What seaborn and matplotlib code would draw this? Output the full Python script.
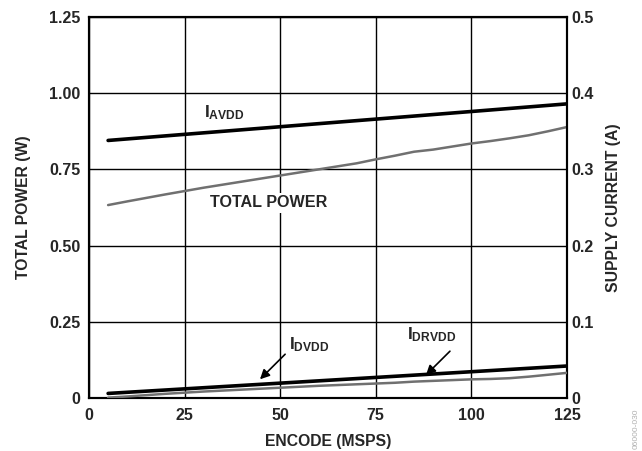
import matplotlib
matplotlib.use("Agg")
import matplotlib.pyplot as plt
import seaborn as sns
import pandas as pd

# data
encode = [5, 10, 20, 25, 30, 40, 50, 60, 70, 75, 80, 85, 90, 95, 100, 105, 110, 115, 120, 125]
total_power = [0.633, 0.645, 0.668, 0.679, 0.690, 0.710, 0.730, 0.750, 0.770, 0.783,
               0.795, 0.808, 0.815, 0.825, 0.835, 0.843, 0.852, 0.862, 0.875, 0.889]
i_avdd = [0.338, 0.340, 0.344, 0.346, 0.348, 0.352, 0.356, 0.360, 0.364, 0.366,
          0.368, 0.370, 0.372, 0.374, 0.376, 0.378, 0.380, 0.382, 0.384, 0.386]
i_dvdd = [0.006, 0.0075, 0.0105, 0.012, 0.0135, 0.0165, 0.0195, 0.0225, 0.0255, 0.027,
          0.0285, 0.030, 0.0315, 0.033, 0.0345, 0.036, 0.0375, 0.039, 0.0405, 0.042]
i_drvdd = [0.0005, 0.002, 0.0055, 0.007, 0.0085, 0.011, 0.0135, 0.016, 0.018, 0.019,
           0.020, 0.0215, 0.0225, 0.0235, 0.0245, 0.025, 0.026, 0.028, 0.0305, 0.033]

x_ticks = [0, 25, 50, 75, 100, 125]
left_ticks = [0, 0.25, 0.50, 0.75, 1.00, 1.25]
left_labels = ["0", "0.25", "0.50", "0.75", "1.00", "1.25"]
right_ticks = [0, 0.1, 0.2, 0.3, 0.4, 0.5]
right_labels = ["0", "0.1", "0.2", "0.3", "0.4", "0.5"]

df = pd.DataFrame({"encode": encode, "power": total_power, "avdd": i_avdd,
                   "dvdd": i_dvdd, "drvdd": i_drvdd})

sns.set_style("white")
plt.rcParams["font.family"] = ["Liberation Sans", "DejaVu Sans"]
plt.rcParams["font.weight"] = "bold"
plt.rcParams["mathtext.fontset"] = "custom"
plt.rcParams["mathtext.rm"] = "Liberation Sans:bold"
plt.rcParams["mathtext.bf"] = "Liberation Sans:bold"
plt.rcParams["mathtext.it"] = "Liberation Sans:bold"

fig = plt.figure(figsize=(6.42, 4.51), dpi=100)
ax = fig.add_axes([0.1386, 0.1175, 0.7446, 0.8448])
ax2 = ax.twinx()

gray = "#707070"
sns.lineplot(data=df, x="encode", y="power", ax=ax, color=gray, lw=1.8, zorder=3)
sns.lineplot(data=df, x="encode", y="avdd", ax=ax2, color="black", lw=2.6, zorder=3)
sns.lineplot(data=df, x="encode", y="dvdd", ax=ax2, color="black", lw=2.6, zorder=3)
sns.lineplot(data=df, x="encode", y="drvdd", ax=ax2, color=gray, lw=1.8, zorder=3)

tick_fs = 11.5
ax.set_xlim(0, 125)
ax.set_ylim(0, 1.25)
ax2.set_ylim(0, 0.5)
ax.set_xticks(x_ticks)
ax.set_xticklabels([str(t) for t in x_ticks], fontsize=tick_fs, fontweight="bold")
ax.set_yticks(left_ticks)
ax.set_yticklabels(left_labels, fontsize=tick_fs, fontweight="bold")
ax2.set_yticks(right_ticks)
ax2.set_yticklabels(right_labels, fontsize=tick_fs, fontweight="bold")
ax.tick_params(axis="x", length=0, pad=7)
ax.tick_params(axis="y", length=0, pad=6)
ax2.tick_params(length=0, pad=3)

ax.grid(True, color="black", lw=1.0)
ax.set_axisbelow(True)
for a in (ax, ax2):
    for s in a.spines.values():
        s.set_color("black")
        s.set_linewidth(1.5)
        s.set_visible(True)

ax.set_xlabel("ENCODE (MSPS)", fontsize=11.3, fontweight="bold", labelpad=8)
ax.set_ylabel("TOTAL POWER (W)", fontsize=11.3, fontweight="bold", labelpad=13)
ax2.set_ylabel("SUPPLY CURRENT (A)", fontsize=11.3, fontweight="bold", labelpad=9)

ax2.text(30, 0.374, r"$\mathrm{I_{AVDD}}$", fontsize=12.5, va="center", ha="left")
ax2.text(31.6, 0.256, "TOTAL POWER", fontsize=11.6, fontweight="bold", va="center", ha="left",
         bbox=dict(facecolor="white", edgecolor="none", pad=1.5), zorder=5)
ax2.text(52.3, 0.070, r"$\mathrm{I_{DVDD}}$", fontsize=12.5, va="center", ha="left")
ax2.text(83.2, 0.083, r"$\mathrm{I_{DRVDD}}$", fontsize=12.5, va="center", ha="left")
ax2.annotate("", xy=(44.2, 0.022), xytext=(51.8, 0.060),
             arrowprops=dict(arrowstyle="-|>", color="black", lw=1.2, mutation_scale=14))
ax2.annotate("", xy=(87.6, 0.0276), xytext=(94.9, 0.064),
             arrowprops=dict(arrowstyle="-|>", color="black", lw=1.2, mutation_scale=14))

fig.text(0.997, 0.05, "06000-030", rotation=90, fontsize=6, color="#b0b0b0",
         fontweight="normal", ha="right", va="center")

fig.savefig("out.png", dpi=100)
